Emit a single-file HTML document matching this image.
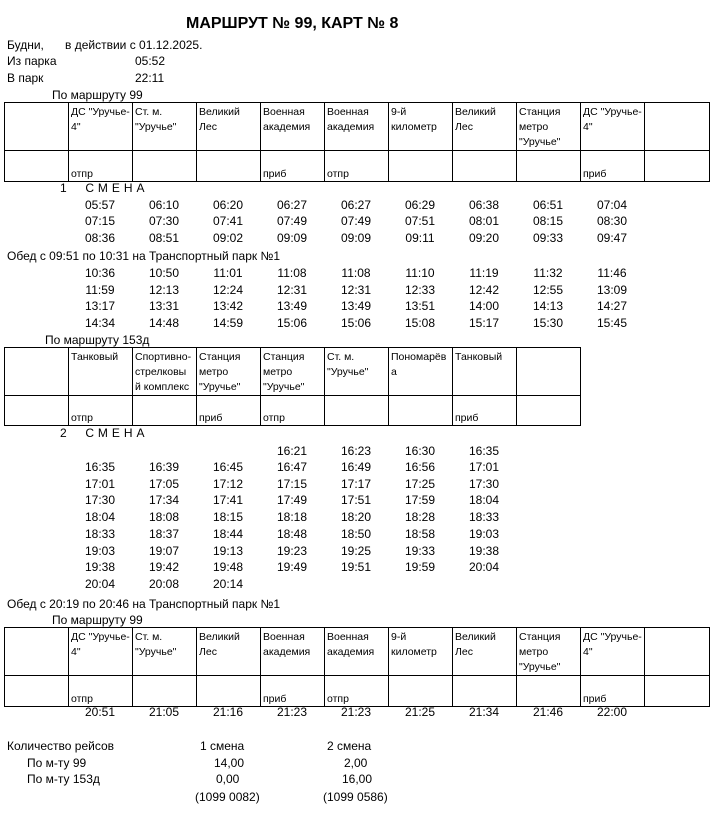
<!DOCTYPE html>
<html><head><meta charset="utf-8"><style>
body{margin:0;width:720px;height:815px;background:#fff;position:relative;font-family:"Liberation Sans",Arial,sans-serif;font-size:12px;color:#000;overflow:hidden}
div{position:absolute;line-height:14px;white-space:nowrap}
.c{width:64px;text-align:center}
table{position:absolute;border-collapse:collapse;font-size:10.5px;table-layout:fixed}
td{border:1px solid #000;padding:2px 0 0 2px;vertical-align:top;line-height:15px;overflow:hidden;white-space:nowrap}
td.b{vertical-align:bottom;line-height:13px;padding:0 0 0 2px}
</style></head><body>
<div style="left:186px;top:15px;font-weight:bold;font-size:16px;line-height:18px">МАРШРУТ № 99, КАРТ № 8</div>
<div style="left:7px;top:38px">Будни,</div><div style="left:65px;top:38px">в действии с 01.12.2025.</div>
<div style="left:7px;top:54px">Из парка</div><div style="left:135px;top:54px">05:52</div>
<div style="left:7px;top:71px">В парк</div><div style="left:135px;top:71px">22:11</div>
<div style="left:52px;top:88px">По маршруту 99</div>

<table style="left:4px;top:102px;width:706px">
<colgroup><col style="width:64px"><col style="width:64px"><col style="width:64px"><col style="width:64px"><col style="width:64px"><col style="width:64px"><col style="width:64px"><col style="width:64px"><col style="width:64px"><col style="width:64px"><col style="width:65px"></colgroup>
<tr style="height:47px"><td></td><td>ДС "Уручье-<br>4"</td><td>Ст. м.<br>"Уручье"</td><td>Великий<br>Лес</td><td>Военная<br>академия</td><td>Военная<br>академия</td><td>9-й<br>километр</td><td>Великий<br>Лес</td><td>Станция<br>метро<br>"Уручье"</td><td>ДС "Уручье-<br>4"</td><td></td></tr>
<tr style="height:31px"><td></td><td class="b">отпр</td><td></td><td></td><td class="b">приб</td><td class="b">отпр</td><td></td><td></td><td></td><td class="b">приб</td><td></td></tr>
</table>

<div style="left:60px;top:181px;letter-spacing:4px">1 &nbsp;СМЕНА</div>
<div class="c" style="left:68px;top:198px">05:57</div><div class="c" style="left:132px;top:198px">06:10</div><div class="c" style="left:196px;top:198px">06:20</div><div class="c" style="left:260px;top:198px">06:27</div><div class="c" style="left:324px;top:198px">06:27</div><div class="c" style="left:388px;top:198px">06:29</div><div class="c" style="left:452px;top:198px">06:38</div><div class="c" style="left:516px;top:198px">06:51</div><div class="c" style="left:580px;top:198px">07:04</div>
<div class="c" style="left:68px;top:214px">07:15</div><div class="c" style="left:132px;top:214px">07:30</div><div class="c" style="left:196px;top:214px">07:41</div><div class="c" style="left:260px;top:214px">07:49</div><div class="c" style="left:324px;top:214px">07:49</div><div class="c" style="left:388px;top:214px">07:51</div><div class="c" style="left:452px;top:214px">08:01</div><div class="c" style="left:516px;top:214px">08:15</div><div class="c" style="left:580px;top:214px">08:30</div>
<div class="c" style="left:68px;top:231px">08:36</div><div class="c" style="left:132px;top:231px">08:51</div><div class="c" style="left:196px;top:231px">09:02</div><div class="c" style="left:260px;top:231px">09:09</div><div class="c" style="left:324px;top:231px">09:09</div><div class="c" style="left:388px;top:231px">09:11</div><div class="c" style="left:452px;top:231px">09:20</div><div class="c" style="left:516px;top:231px">09:33</div><div class="c" style="left:580px;top:231px">09:47</div>
<div style="left:7px;top:249px">Обед с 09:51 по 10:31 на Транспортный парк №1</div>
<div class="c" style="left:68px;top:266px">10:36</div><div class="c" style="left:132px;top:266px">10:50</div><div class="c" style="left:196px;top:266px">11:01</div><div class="c" style="left:260px;top:266px">11:08</div><div class="c" style="left:324px;top:266px">11:08</div><div class="c" style="left:388px;top:266px">11:10</div><div class="c" style="left:452px;top:266px">11:19</div><div class="c" style="left:516px;top:266px">11:32</div><div class="c" style="left:580px;top:266px">11:46</div>
<div class="c" style="left:68px;top:283px">11:59</div><div class="c" style="left:132px;top:283px">12:13</div><div class="c" style="left:196px;top:283px">12:24</div><div class="c" style="left:260px;top:283px">12:31</div><div class="c" style="left:324px;top:283px">12:31</div><div class="c" style="left:388px;top:283px">12:33</div><div class="c" style="left:452px;top:283px">12:42</div><div class="c" style="left:516px;top:283px">12:55</div><div class="c" style="left:580px;top:283px">13:09</div>
<div class="c" style="left:68px;top:299px">13:17</div><div class="c" style="left:132px;top:299px">13:31</div><div class="c" style="left:196px;top:299px">13:42</div><div class="c" style="left:260px;top:299px">13:49</div><div class="c" style="left:324px;top:299px">13:49</div><div class="c" style="left:388px;top:299px">13:51</div><div class="c" style="left:452px;top:299px">14:00</div><div class="c" style="left:516px;top:299px">14:13</div><div class="c" style="left:580px;top:299px">14:27</div>
<div class="c" style="left:68px;top:316px">14:34</div><div class="c" style="left:132px;top:316px">14:48</div><div class="c" style="left:196px;top:316px">14:59</div><div class="c" style="left:260px;top:316px">15:06</div><div class="c" style="left:324px;top:316px">15:06</div><div class="c" style="left:388px;top:316px">15:08</div><div class="c" style="left:452px;top:316px">15:17</div><div class="c" style="left:516px;top:316px">15:30</div><div class="c" style="left:580px;top:316px">15:45</div>

<div style="left:45px;top:333px">По маршруту 153д</div>
<table style="left:4px;top:347px;width:577px">
<colgroup><col style="width:64px"><col style="width:64px"><col style="width:64px"><col style="width:64px"><col style="width:64px"><col style="width:64px"><col style="width:64px"><col style="width:64px"><col style="width:64px"></colgroup>
<tr style="height:48px"><td></td><td>Танковый</td><td>Спортивно-<br>стрелковы<br>й комплекс</td><td>Станция<br>метро<br>"Уручье"</td><td>Станция<br>метро<br>"Уручье"</td><td>Ст. м.<br>"Уручье"</td><td>Пономарёв<br>а</td><td>Танковый</td><td></td></tr>
<tr style="height:30px"><td></td><td class="b">отпр</td><td></td><td class="b">приб</td><td class="b">отпр</td><td></td><td></td><td class="b">приб</td><td></td></tr>
</table>

<div style="left:60px;top:426px;letter-spacing:4px">2 &nbsp;СМЕНА</div>
<div class="c" style="left:260px;top:444px">16:21</div><div class="c" style="left:324px;top:444px">16:23</div><div class="c" style="left:388px;top:444px">16:30</div><div class="c" style="left:452px;top:444px">16:35</div>
<div class="c" style="left:68px;top:460px">16:35</div><div class="c" style="left:132px;top:460px">16:39</div><div class="c" style="left:196px;top:460px">16:45</div><div class="c" style="left:260px;top:460px">16:47</div><div class="c" style="left:324px;top:460px">16:49</div><div class="c" style="left:388px;top:460px">16:56</div><div class="c" style="left:452px;top:460px">17:01</div>
<div class="c" style="left:68px;top:477px">17:01</div><div class="c" style="left:132px;top:477px">17:05</div><div class="c" style="left:196px;top:477px">17:12</div><div class="c" style="left:260px;top:477px">17:15</div><div class="c" style="left:324px;top:477px">17:17</div><div class="c" style="left:388px;top:477px">17:25</div><div class="c" style="left:452px;top:477px">17:30</div>
<div class="c" style="left:68px;top:493px">17:30</div><div class="c" style="left:132px;top:493px">17:34</div><div class="c" style="left:196px;top:493px">17:41</div><div class="c" style="left:260px;top:493px">17:49</div><div class="c" style="left:324px;top:493px">17:51</div><div class="c" style="left:388px;top:493px">17:59</div><div class="c" style="left:452px;top:493px">18:04</div>
<div class="c" style="left:68px;top:510px">18:04</div><div class="c" style="left:132px;top:510px">18:08</div><div class="c" style="left:196px;top:510px">18:15</div><div class="c" style="left:260px;top:510px">18:18</div><div class="c" style="left:324px;top:510px">18:20</div><div class="c" style="left:388px;top:510px">18:28</div><div class="c" style="left:452px;top:510px">18:33</div>
<div class="c" style="left:68px;top:527px">18:33</div><div class="c" style="left:132px;top:527px">18:37</div><div class="c" style="left:196px;top:527px">18:44</div><div class="c" style="left:260px;top:527px">18:48</div><div class="c" style="left:324px;top:527px">18:50</div><div class="c" style="left:388px;top:527px">18:58</div><div class="c" style="left:452px;top:527px">19:03</div>
<div class="c" style="left:68px;top:544px">19:03</div><div class="c" style="left:132px;top:544px">19:07</div><div class="c" style="left:196px;top:544px">19:13</div><div class="c" style="left:260px;top:544px">19:23</div><div class="c" style="left:324px;top:544px">19:25</div><div class="c" style="left:388px;top:544px">19:33</div><div class="c" style="left:452px;top:544px">19:38</div>
<div class="c" style="left:68px;top:560px">19:38</div><div class="c" style="left:132px;top:560px">19:42</div><div class="c" style="left:196px;top:560px">19:48</div><div class="c" style="left:260px;top:560px">19:49</div><div class="c" style="left:324px;top:560px">19:51</div><div class="c" style="left:388px;top:560px">19:59</div><div class="c" style="left:452px;top:560px">20:04</div>
<div class="c" style="left:68px;top:577px">20:04</div><div class="c" style="left:132px;top:577px">20:08</div><div class="c" style="left:196px;top:577px">20:14</div>
<div style="left:7px;top:597px">Обед с 20:19 по 20:46 на Транспортный парк №1</div>
<div style="left:52px;top:613px">По маршруту 99</div>

<table style="left:4px;top:627px;width:706px">
<colgroup><col style="width:64px"><col style="width:64px"><col style="width:64px"><col style="width:64px"><col style="width:64px"><col style="width:64px"><col style="width:64px"><col style="width:64px"><col style="width:64px"><col style="width:64px"><col style="width:65px"></colgroup>
<tr style="height:47px"><td></td><td>ДС "Уручье-<br>4"</td><td>Ст. м.<br>"Уручье"</td><td>Великий<br>Лес</td><td>Военная<br>академия</td><td>Военная<br>академия</td><td>9-й<br>километр</td><td>Великий<br>Лес</td><td>Станция<br>метро<br>"Уручье"</td><td>ДС "Уручье-<br>4"</td><td></td></tr>
<tr style="height:31px"><td></td><td class="b">отпр</td><td></td><td></td><td class="b">приб</td><td class="b">отпр</td><td></td><td></td><td></td><td class="b">приб</td><td></td></tr>
</table>
<div class="c" style="left:68px;top:705px">20:51</div><div class="c" style="left:132px;top:705px">21:05</div><div class="c" style="left:196px;top:705px">21:16</div><div class="c" style="left:260px;top:705px">21:23</div><div class="c" style="left:324px;top:705px">21:23</div><div class="c" style="left:388px;top:705px">21:25</div><div class="c" style="left:452px;top:705px">21:34</div><div class="c" style="left:516px;top:705px">21:46</div><div class="c" style="left:580px;top:705px">22:00</div>

<div style="left:7px;top:739px">Количество рейсов</div><div style="left:200px;top:739px">1 смена</div><div style="left:327px;top:739px">2 смена</div>
<div style="left:27px;top:756px">По м-ту 99</div><div style="left:214px;top:756px">14,00</div><div style="left:344px;top:756px">2,00</div>
<div style="left:27px;top:772px">По м-ту 153д</div><div style="left:216px;top:772px">0,00</div><div style="left:342px;top:772px">16,00</div>
<div style="left:195px;top:790px">(1099 0082)</div><div style="left:323px;top:790px">(1099 0586)</div>
</body></html>
